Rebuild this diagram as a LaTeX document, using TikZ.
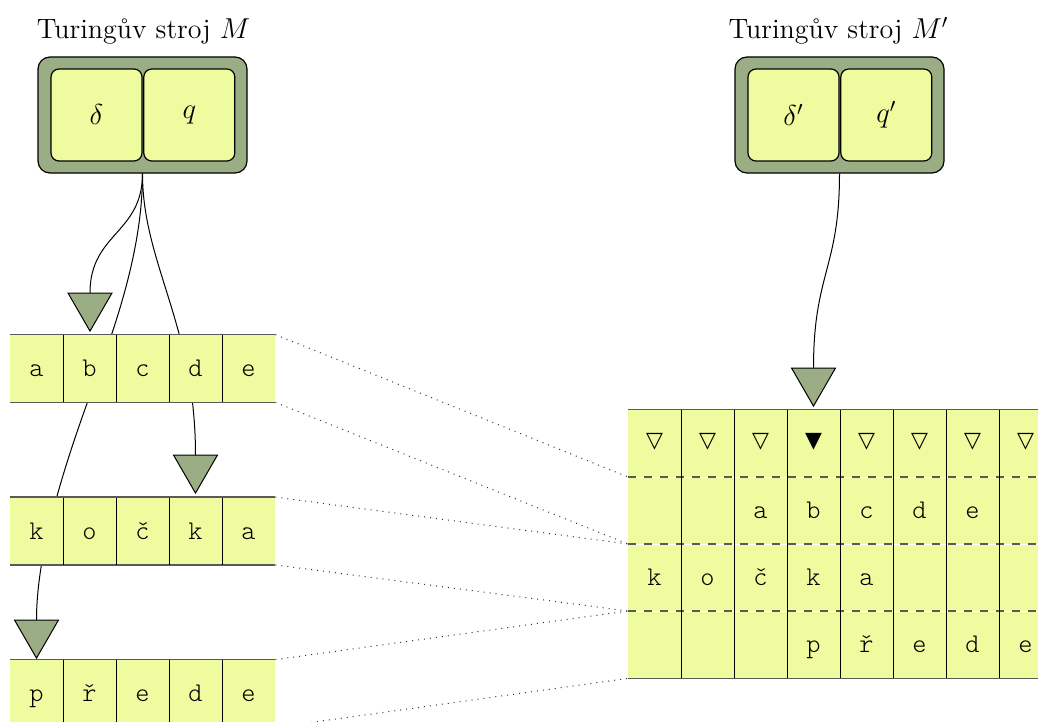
\documentclass[tikz,border=0pt]{standalone}
\usepackage{fontspec}
\setmonofont{Latin Modern Mono Light}
\newfontfamily\symfont{DejaVu Sans}
\usepackage{tikz}
\usetikzlibrary{positioning}
\usetikzlibrary{shapes.geometric}

\definecolor{headgreen}{HTML}{9AAD84}
\definecolor{cellyellow}{HTML}{EEFB9E}
\definecolor{tapeline}{HTML}{5A5A5A}

\begin{document}
\begin{tikzpicture}[x=0.5pt,y=-0.5pt,
    machine/.style={draw, line width=0.6pt, fill=headgreen, rounded corners=6pt,
        minimum width=104.5pt, minimum height=58pt, inner sep=0pt},
    part/.style={draw, line width=0.6pt, fill=cellyellow, rounded corners=4pt,
        minimum width=45.5pt, minimum height=46pt, inner sep=0pt,
        font=\fontsize{14}{16}\selectfont},
    head/.style={regular polygon, regular polygon sides=3, shape border rotate=180,
        draw, line width=0.5pt, fill=headgreen, minimum size=25.4pt, inner sep=0pt},
    tape/.style={fill=cellyellow, minimum width=132.5pt, minimum height=33.5pt, inner sep=0pt},
    sym/.style={font=\ttfamily\fontsize{13.5}{15}\selectfont, inner sep=0pt,
        text height=8pt, text depth=0pt},
    pointer/.style={font=\symfont\fontsize{11}{13}\selectfont, inner sep=0pt},
    title/.style={font=\fontsize{14}{16}\selectfont, anchor=base, inner sep=0pt},
    wire/.style={line width=0.5pt},
    rim/.style={draw=tapeline, line width=0.8pt},
    link/.style={draw=black!80, line width=0.5pt, dash pattern=on 0.5pt off 2.5pt}]
    \useasboundingbox (0,0) rectangle (1038,722);
    \clip (0,0) rectangle (1038,722);

    % machine M
    \node[title] (titleM) at (143.5,39) {Turingův stroj $M$};
    \node[machine] (M) at (142.5,115) {};
    \node[part] (delta) at (96.5,115) {$\delta$};
    \node[part, right=0.3pt of delta] (q) {$q$};

    % machine M'
    \node[title] (titleMM) at (838.5,39) {Turingův stroj $M'$};
    \node[machine] (MM) at (839.5,115) {};
    \node[part] (deltaM) at (793.5,115) {$\delta'$};
    \node[part, right=0.3pt of deltaM] (qM) {$q'$};

    % heads
    \coordinate (bend) at (100,368);
    \draw[wire] (M.south) .. controls +(0,60) and +(0,-60) .. (90,293);
    \draw[wire] (M.south) .. controls +(0,70) and +(20,-56) .. (bend)
        .. controls +(-27,73) and +(0,-78) .. (36.5,620);
    \draw[wire] (M.south) .. controls +(0,90) and +(0,-130) .. (195.5,455);
    \draw[wire] (MM.south) .. controls +(0,95) and +(0,-95) .. (813.5,368);

    % tapes of M
    \foreach \n/\y in {A/368.5, B/531, C/693.5} {
        \node[tape] (tape\n) at (142.5,\y) {};
        \draw[rim] (tape\n.north west) -- (tape\n.north east)
            (tape\n.south west) -- (tape\n.south east);
        \foreach \i in {1,...,4}
            \draw[wire] (10+53*\i,\y-33.5) -- (10+53*\i,\y+33.5);
    }
    \foreach \c [count=\i] in {a,b,c,d,e}
        \node[sym] (a\i) at (-16.5+53*\i,368.5) {\c};
    \foreach \c [count=\i] in {k,o,č,k,a}
        \node[sym] (b\i) at (-16.5+53*\i,531) {\c};
    \foreach \c [count=\i] in {p,ř,e,d,e}
        \node[sym] (c\i) at (-16.5+53*\i,693.5) {\c};

    \node[head] (hA) at (90,305.7) {};
    \node[head] (hB) at (195.5,467.7) {};
    \node[head] (hC) at (36.5,632.7) {};

    % tape of M'
    \node[fill=cellyellow, minimum width=212pt, minimum height=134pt, inner sep=0pt]
        (big) at (840,544) {};
    \coordinate (row1) at (628,477);
    \coordinate (row2) at (628,544);
    \coordinate (row3) at (628,611);
    \foreach \y in {477,544,611} {
        \draw[white, line width=0.5pt] (628,\y) -- (1052,\y);
        \draw[tapeline, line width=0.8pt, dash pattern=on 4pt off 4pt] (628,\y) -- (1052,\y);
    }
    \draw[rim] (big.north west) -- (big.north east) (big.south west) -- (big.south east);
    \foreach \i in {1,...,7}
        \draw[wire] (628+53*\i,410) -- (628+53*\i,678);
    \foreach \i in {1,...,8}
        \node[pointer] (m\i) at (601.5+53*\i,442) {\ifnum\i=4 ▼\else ▽\fi};
    \foreach \c [count=\i from 3] in {a,b,c,d,e}
        \node[sym] (x\i) at (601.5+53*\i,510.5) {\c};
    \foreach \c [count=\i] in {k,o,č,k,a}
        \node[sym] (y\i) at (601.5+53*\i,577.5) {\c};
    \foreach \c [count=\i from 4] in {p,ř,e,d,e}
        \node[sym] (z\i) at (601.5+53*\i,644.5) {\c};
    \node[head] (hM) at (813.5,380.7) {};

    % dotted links
    \draw[link] (tapeA.north east) -- (row1);
    \draw[link] (tapeA.south east) -- (row2);
    \draw[link] (tapeB.north east) -- (row2);
    \draw[link] (tapeB.south east) -- (row3);
    \draw[link] (tapeC.north east) -- (row3);
    \draw[link] (tapeC.south east) -- (big.south west);
\end{tikzpicture}
\end{document}
